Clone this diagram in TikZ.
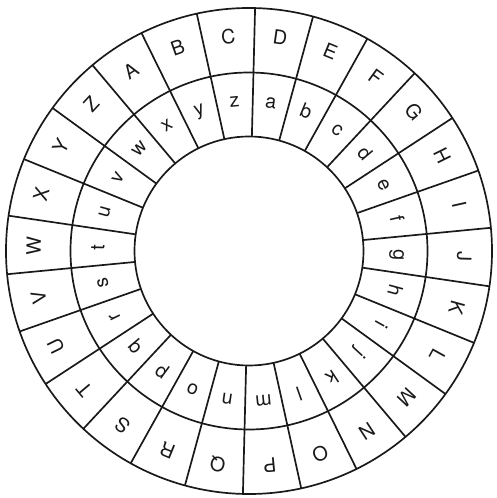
\documentclass[tikz,border=0pt]{standalone}
\usepackage{fontspec}
\setmainfont{TeX Gyre Heros}
\usepackage{tikz}
\usetikzlibrary{calc}
\colorlet{wheelink}{black!90}
\newcommand{\rOut}{243}
\newcommand{\rMid}{178.5}
\newcommand{\rIn}{114.5}
\newcommand{\stepAng}{13.846}
\tikzset{
  ring/.style={wheelink,line width=2.4pt},
  capletter/.style={wheelink,inner sep=0pt,font=\fontsize{28}{28}\selectfont,
    text height=0.72em,text depth=0pt},
  smallletter/.style={wheelink,inner sep=0pt,font=\fontsize{28}{28}\selectfont,
    text height=0.53em,text depth=0pt}
}

\begin{document}
\begin{tikzpicture}[x=0.5mm,y=0.5mm]
\useasboundingbox (-249,-247) rectangle (248,251);
% ---- three rings ----
\draw[ring] (0,0) circle (\rOut);
\draw[ring] (0,0) circle (\rMid);
\draw[ring] (0,0) circle (\rIn);
% ---- 26 spokes, from inner to outer ring ----
\foreach \k in {0,...,25}{
  \draw[ring] ({130.1-\stepAng*\k}:\rIn) -- ({130.1-\stepAng*\k}:\rOut);
}
% ---- outer letters A..Z, clockwise ----
\foreach \L [count=\i from 0] in {A,...,Z}{
  \node[capletter,rotate={33.2-\stepAng*\i}] (out\L) at ({123.2-\stepAng*\i}:210.75) {\L};
}
% ---- inner letters a..z, shifted by three cells ----
\foreach \l [count=\i from 3] in {a,...,z}{
  \node[smallletter,rotate={33.2-\stepAng*\i}] (in\l) at ({123.2-\stepAng*\i}:146.5) {\l};
}
\end{tikzpicture}
\end{document}
